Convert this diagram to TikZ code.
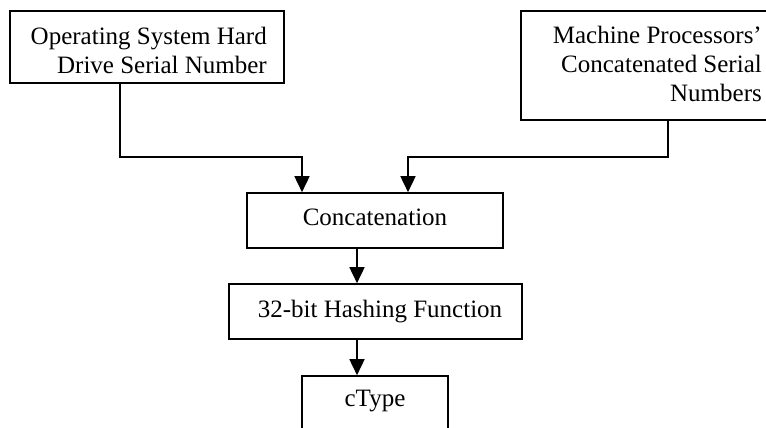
\documentclass[tikz,border=0pt]{standalone}
\usepackage{fontspec}
\setmainfont{Liberation Serif}
\usetikzlibrary{arrows.meta}
\begin{document}
\begin{tikzpicture}[x=1pt,y=-1pt,
  box/.style={draw, line width=1.6pt, inner sep=0pt},
  boxtext/.style={inner sep=0pt, align=right, font=\fontsize{25}{29}\selectfont},
  single/.style={box, font=\fontsize{25}{29}\selectfont, text height=17pt},
  flow/.style={line width=1.6pt, -{Triangle[width=15pt,length=16pt]}},
  ]
\clip (0,0) rectangle (766,428);

% input sources
\node[box, minimum width=274pt, minimum height=72pt] (os) at (147,47) {};
\node[boxtext, anchor=east] (ostext) at (267,50)
  {Operating System Hard\\Drive Serial Number};
\node[box, minimum width=273pt, minimum height=109pt] (proc) at (657.5,65.5) {};
\node[boxtext, anchor=east] (proctext) at (762,64)
  {Machine Processors’\\Concatenated Serial\\Numbers};

% processing chain
\node[single, minimum width=256pt, minimum height=55pt, text depth=8pt]
  (cat) at (375,220.5) {Concatenation};
\node[single, minimum width=293pt, minimum height=55pt, text depth=6pt]
  (hash) at (375.5,311.5) {\hspace*{9pt}32-bit Hashing Function};
\node[single, minimum width=146pt, minimum height=64pt, text depth=21pt]
  (ctype) at (375,408) {cType};

% connectors
\coordinate (lturn) at (302,157);
\coordinate (rturn) at (408,157);
\coordinate (catout) at ([xshift=-18pt]cat.south);
\coordinate (hashout) at ([xshift=-18.5pt]hash.south);
\draw[flow] ([xshift=-27pt]os.south) |- (lturn) -- (lturn |- cat.north);
\draw[flow] ([xshift=10.5pt]proc.south) |- (rturn) -- (rturn |- cat.north);
\draw[flow] (catout) -- (catout |- hash.north);
\draw[flow] (hashout) -- (hashout |- ctype.north);
\end{tikzpicture}
\end{document}
